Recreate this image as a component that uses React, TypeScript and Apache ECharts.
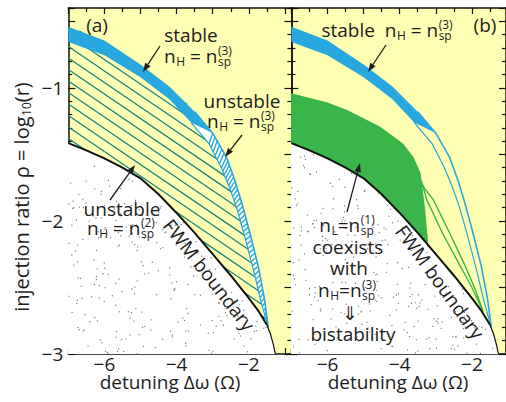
import React, { useEffect, useRef } from 'react';
import * as echarts from 'echarts';

type P = [number, number];

const X_MIN = -7;
const X_MAX_A = -0.82;
const X_MAX_B = -1.055;
const Y_MIN = -3;
const Y_MAX = -0.4;
const X_LABELS = [-6, -4, -2];
const Y_LABELS = [-1, -2, -3];

// FWM boundary (same in both panels)
const FWM_BOUNDARY: P[] = [
  [-7, -1.415], [-6.5, -1.47], [-6, -1.53], [-5.5, -1.6], [-5, -1.68], [-4.5, -1.8], [-4, -1.94],
  [-3.5, -2.09], [-3, -2.25], [-2.5, -2.41], [-2, -2.58], [-1.75, -2.67], [-1.5, -2.78], [-1.4, -2.85],
  [-1.32, -2.93], [-1.28, -2.98], [-1.26, -3.0], [-1.25, -3.1],
];
// outer (upper) edge of the n_H = n_sp^(3) band
const BLUE_OUTER: P[] = [
  [-7, -0.54], [-6, -0.645], [-5, -0.825], [-4.2, -0.99], [-3.5, -1.18], [-3, -1.34], [-2.62, -1.52],
  [-2.38, -1.7], [-2.2, -1.86], [-1.98, -2.08], [-1.74, -2.34], [-1.57, -2.58], [-1.46, -2.8],
];
// inner (lower) edge of the same band
const BLUE_INNER: P[] = [
  [-7, -0.655], [-6, -0.755], [-5, -0.92], [-4.2, -1.085], [-3.6, -1.26], [-3.1, -1.42], [-2.76, -1.6],
  [-2.52, -1.76], [-2.34, -1.9], [-2.12, -2.11], [-1.87, -2.37], [-1.66, -2.61], [-1.46, -2.8],
];
const STABLE_END_INDEX = 4; // band turns unstable after this point
// upper edge of bistable (green) region in panel b
const GREEN_TOP: P[] = [
  [-7, -1.04], [-6, -1.11], [-5.47, -1.165], [-4.55, -1.29], [-3.9, -1.42], [-3.62, -1.52],
  [-3.42, -1.64], [-3.3, -1.9], [-3.15, -2.35],
];
// thin green boundaries continuing to the FWM curve
const GREEN_LINE_INNER: P[] = [
  [-3.4, -1.7], [-3.25, -1.84], [-2.8, -2.1], [-2.4, -2.3], [-2.0, -2.5], [-1.69, -2.68],
];
const GREEN_LINE_OUTER: P[] = [
  [-3.6, -1.62], [-3.3, -1.76], [-3.07, -1.84], [-2.6, -2.1], [-2.2, -2.33], [-1.9, -2.52], [-1.69, -2.68],
];

const FONT = '"Open Sans", "Noto Sans", sans-serif';
const INK = '#1d1d1b';
const YELLOW = '#FFFFB4';
const BLUE = '#29A8DF';
const GREEN = '#3AB54A';
const HATCH = '#1A8580';

let _ctx: CanvasRenderingContext2D | null = null;
function tw(t: string, s: number): number {
  if (!_ctx) _ctx = document.createElement('canvas').getContext('2d');
  if (!_ctx) return t.length * s * 0.55;
  _ctx.font = `${s}px "Open Sans"`;
  return _ctx.measureText(t).width;
}

function txt(text: string, x: number, y: number, size: number, align = 'left') {
  return {
    type: 'text', x, y, z: 100, zlevel: 0,
    style: {
      text, fontSize: size, fontFamily: FONT, fill: INK,
      align, verticalAlign: 'middle', textAlign: align, textVerticalAlign: 'middle',
    },
  };
}

type Part = { t: string; sub?: string; sup?: string };
function formula(parts: Part[], fs = 19, ss = 12, subDy = 5, supDy = -6) {
  const layout: { p: Part; x: number; mw: number }[] = [];
  let x = 0;
  for (const p of parts) {
    const mw = p.t ? tw(p.t, fs) : 0;
    const sw = Math.max(p.sub ? tw(p.sub, ss) : 0, p.sup ? tw(p.sup, ss) : 0);
    layout.push({ p, x, mw });
    x += mw + sw + (sw ? 0.5 : 0);
  }
  const W = x;
  const els: any[] = [];
  for (const o of layout) {
    const x0 = o.x - W / 2;
    if (o.p.t) els.push(txt(o.p.t, x0, 0, fs));
    if (o.p.sub) els.push(txt(o.p.sub, x0 + o.mw + 0.5, subDy, ss));
    if (o.p.sup) els.push(txt(o.p.sup, x0 + o.mw + 0.5, supDy, ss));
  }
  return els;
}

function group(x: number, y: number, children: any[], rotation = 0) {
  return { type: 'group', x, y, rotation, children, z: 100 };
}

function arrow(x1: number, y1: number, x2: number, y2: number) {
  const dx = x2 - x1, dy = y2 - y1;
  const L = Math.hypot(dx, dy);
  const ux = dx / L, uy = dy / L;
  const hl = 9, hw = 3.2;
  const bx = x2 - ux * hl, by = y2 - uy * hl;
  return [
    { type: 'line', z: 100, shape: { x1, y1, x2: bx, y2: by }, style: { stroke: INK, lineWidth: 1.3 } },
    {
      type: 'polygon', z: 100,
      shape: { points: [[x2, y2], [bx - uy * hw, by + ux * hw], [bx + uy * hw, by - ux * hw]] },
      style: { fill: INK },
    },
  ];
}

function hatchSegments(poly: number[][], m: number, step: number) {
  let bmin = Infinity, bmax = -Infinity;
  for (const [x, y] of poly) {
    const b = y - m * x;
    bmin = Math.min(bmin, b); bmax = Math.max(bmax, b);
  }
  const segs: number[][][] = [];
  for (let b = Math.ceil(bmin / step) * step; b <= bmax; b += step) {
    const xs: number[] = [];
    for (let i = 0; i < poly.length; i++) {
      const p1 = poly[i], p2 = poly[(i + 1) % poly.length];
      const f1 = p1[1] - m * p1[0] - b, f2 = p2[1] - m * p2[0] - b;
      if ((f1 < 0) !== (f2 < 0)) {
        const t = f1 / (f1 - f2);
        xs.push(p1[0] + t * (p2[0] - p1[0]));
      }
    }
    xs.sort((a, c) => a - c);
    for (let k = 0; k + 1 < xs.length; k += 2) {
      segs.push([[xs[k], m * xs[k] + b], [xs[k + 1], m * xs[k + 1] + b]]);
    }
  }
  return segs;
}

function inside(poly: number[][], x: number, y: number) {
  let inn = false;
  for (let i = 0, j = poly.length - 1; i < poly.length; j = i++) {
    const xi = poly[i][0], yi = poly[i][1], xj = poly[j][0], yj = poly[j][1];
    if ((yi > y) !== (yj > y) && x < ((xj - xi) * (y - yi)) / (yj - yi) + xi) inn = !inn;
  }
  return inn;
}

// deterministic texture scatter (stipple pattern, not data)
function stip(n: number, k: number) {
  const s = Math.sin(n * 12.9898 + k * 78.233) * 43758.5453;
  return s - Math.floor(s);
}

function renderPanel(api: any, panel: 'a' | 'b', xmax: number) {
  const c = (p: P) => api.coord(p) as number[];
  const kids: any[] = [];
  const tip = BLUE_OUTER[BLUE_OUTER.length - 1];
  const fwm0 = FWM_BOUNDARY[0];
  const fwmLast = FWM_BOUNDARY[FWM_BOUNDARY.length - 1];

  if (panel === 'a') {
    const region: P[] = [
      [-7.4, BLUE_OUTER[0][1]], ...BLUE_OUTER,
      ...FWM_BOUNDARY.filter((p) => p[0] < tip[0]).reverse(), [-7.4, fwm0[1]],
    ];
    const segs = hatchSegments(region.map(c), 0.68, 11.5);
    for (const s of segs) {
      kids.push({ type: 'line', shape: { x1: s[0][0], y1: s[0][1], x2: s[1][0], y2: s[1][1] }, style: { stroke: HATCH, lineWidth: 1.3 } });
    }
  } else {
    const gl = GREEN_TOP[GREEN_TOP.length - 1];
    const poly: P[] = [[-7.4, GREEN_TOP[0][1]], ...GREEN_TOP, [gl[0], -3.4], [-7.4, -3.4]];
    kids.push({ type: 'polygon', shape: { points: poly.map(c) }, style: { fill: GREEN } });
  }

  // region below FWM boundary: white with stipple
  const white: P[] = [[-7.4, fwm0[1]], ...FWM_BOUNDARY, [fwmLast[0], -3.4], [-7.4, -3.4]];
  const whitePx = white.map(c);
  kids.push({ type: 'polygon', shape: { points: whitePx }, style: { fill: '#ffffff' } });
  const [gx0, gy0] = c([X_MIN, Y_MAX]);
  const [gx1, gy1] = c([xmax, Y_MIN]);
  const N = 1100;
  for (let n = 0; n < N; n++) {
    const px = gx0 + stip(n + (panel === 'a' ? 0 : 2000), 1) * (gx1 - gx0);
    const py = gy0 + stip(n + (panel === 'a' ? 0 : 2000), 2) * (gy1 - gy0);
    if (inside(whitePx, px, py)) {
      kids.push({ type: 'circle', shape: { cx: px, cy: py, r: 0.6 }, style: { fill: '#707070' } });
    }
  }

  // blue band
  const outerPx = BLUE_OUTER.map(c);
  const innerPx = BLUE_INNER.map(c);
  kids.push({ type: 'polygon', shape: { points: [...outerPx, ...innerPx.slice().reverse()] }, style: { fill: BLUE } });
  const S = STABLE_END_INDEX;
  const unst = [innerPx[S], ...outerPx.slice(S + 1), ...innerPx.slice(S + 1).reverse()];
  kids.push({ type: 'polygon', shape: { points: unst }, style: { fill: panel === 'a' ? '#ffffff' : YELLOW } });
  if (panel === 'a') {
    for (let i = S + 1; i < outerPx.length - 1; i++) {
      const o1 = outerPx[i], o2 = outerPx[i + 1], i1 = innerPx[i], i2 = innerPx[i + 1];
      const L = Math.hypot(o2[0] - o1[0], o2[1] - o1[1]);
      const n = Math.max(1, Math.round(L / 4.6));
      for (let k = 0; k < n; k++) {
        const t = k / n;
        kids.push({
          type: 'line',
          shape: { x1: o1[0] + t * (o2[0] - o1[0]), y1: o1[1] + t * (o2[1] - o1[1]), x2: i1[0] + t * (i2[0] - i1[0]), y2: i1[1] + t * (i2[1] - i1[1]) },
          style: { stroke: BLUE, lineWidth: 1.4 },
        });
      }
    }
  }
  kids.push({ type: 'polyline', shape: { points: outerPx.slice(S) }, style: { stroke: BLUE, lineWidth: 1.6, fill: 'none' } });
  kids.push({ type: 'polyline', shape: { points: innerPx.slice(S) }, style: { stroke: BLUE, lineWidth: 1.2, fill: 'none' } });

  if (panel === 'b') {
    kids.push({ type: 'polyline', shape: { points: GREEN_LINE_INNER.map(c) }, style: { stroke: GREEN, lineWidth: 1.4, fill: 'none' } });
    kids.push({ type: 'polyline', shape: { points: GREEN_LINE_OUTER.map(c) }, style: { stroke: GREEN, lineWidth: 1.4, fill: 'none' } });
  }

  const upper = FWM_BOUNDARY.filter((p) => p[0] <= tip[0] + 0.05);
  const lower = FWM_BOUNDARY.filter((p) => p[0] >= tip[0] - 0.05);
  kids.push({ type: 'polyline', shape: { points: upper.map(c) }, style: { stroke: '#111', lineWidth: 2, fill: 'none' } });
  kids.push({ type: 'polyline', shape: { points: lower.map(c) }, style: { stroke: '#111', lineWidth: 1.2, fill: 'none' } });
  return { type: 'group', children: kids };
}

function xAxis(gridIndex: number, position: string, max: number, labels: boolean) {
  return {
    type: 'value', gridIndex, position, min: X_MIN, max, interval: 1,
    axisLine: { show: true, onZero: false, lineStyle: { color: '#111', width: 1.5 } },
    axisTick: { show: true, inside: true, length: 6, lineStyle: { color: '#111', width: 1.2 } },
    minorTick: { show: true, splitNumber: 2, length: 4, lineStyle: { color: '#111', width: 1.2 } },
    splitLine: { show: false }, minorSplitLine: { show: false },
    axisLabel: labels
      ? {
          show: true, margin: 0, fontSize: 19, fontFamily: FONT, color: INK,
          formatter: (v: number) => (X_LABELS.includes(Math.round(v * 100) / 100) ? '\u2212' + Math.abs(v) : ''),
        }
      : { show: false },
  };
}
function yAxis(gridIndex: number, position: string, labels: boolean) {
  return {
    type: 'value', gridIndex, position, min: Y_MIN, max: Y_MAX, interval: 0.5,
    axisLine: { show: true, onZero: false, lineStyle: { color: '#111', width: 1.5 } },
    axisTick: { show: true, inside: true, length: 7, lineStyle: { color: '#111', width: 1.2 } },
    minorTick: { show: true, splitNumber: 5, length: 4, lineStyle: { color: '#111', width: 1.2 } },
    splitLine: { show: false }, minorSplitLine: { show: false },
    axisLabel: labels
      ? {
          show: true, margin: 5, fontSize: 19, fontFamily: FONT, color: INK,
          formatter: (v: number) => (Y_LABELS.includes(Math.round(v * 100) / 100) ? '\u2212' + Math.abs(v) : ''),
        }
      : { show: false },
  };
}

function buildOption() {
  const nH3: Part[] = [{ t: 'n', sub: 'H' }, { t: ' = n', sub: 'sp', sup: '(3)' }];
  const nH2: Part[] = [{ t: 'n', sub: 'H' }, { t: ' = n', sub: 'sp', sup: '(2)' }];
  const graphics: any[] = [
    group(97, 25, [txt('(a)', 0, 0, 19, 'center')]),
    group(191, 35, [txt('stable', 0, 0, 19, 'center')]),
    group(198, 56, formula(nH3)),
    ...arrow(160, 46, 143, 72),
    group(242, 101, [txt('unstable', 0, 0, 19, 'center')]),
    group(241, 121, formula(nH3)),
    ...arrow(242, 135, 225, 157),
    group(122, 209, [txt('unstable', 0, 0, 19, 'center')]),
    group(121, 228, formula(nH2)),
    ...arrow(110, 200, 135, 165),
    group(209, 275, [txt('FWM boundary', 0, 0, 19, 'center')], (-52 * Math.PI) / 180),
    group(485, 25, [txt('(b)', 0, 0, 19, 'center')]),
    group(387, 30, formula([{ t: 'stable  n', sub: 'H' }, { t: ' = n', sub: 'sp', sup: '(3)' }])),
    ...arrow(386, 45, 368, 72),
    group(347, 225, formula([{ t: 'n', sub: 'L' }, { t: '=n', sub: 'sp', sup: '(1)' }])),
    group(348, 247, [txt('coexists', 0, 0, 19, 'center')]),
    group(349, 268, [txt('with', 0, 0, 19, 'center')]),
    group(347, 290, formula([{ t: 'n', sub: 'H' }, { t: '=n', sub: 'sp', sup: '(3)' }])),
    group(350, 313, [txt('\u21D3', 0, 0, 19, 'center')]),
    group(353, 334, [txt('bistability', 0, 0, 19, 'center')]),
    ...arrow(347, 212, 360, 163),
    group(440, 282, [txt('FWM boundary', 0, 0, 19, 'center')], (-54 * Math.PI) / 180),
    group(170, 382, [txt('detuning \u0394\u03C9 (\u03A9)', 0, 0, 19, 'center')]),
    group(398, 382, [txt('detuning \u0394\u03C9 (\u03A9)', 0, 0, 19, 'center')]),
    group(21, 197, formula([{ t: 'injection ratio \u03C1 = log', sub: '10' }, { t: '(r)' }], 20, 12, 5, -6), Math.PI / 2),
  ];

  return {
    animation: false,
    textStyle: { fontFamily: FONT },
    grid: [
      { left: 68.3, top: 8, width: 223.1, height: 346, show: true, backgroundColor: YELLOW, borderWidth: 0, containLabel: false, outerBoundsMode: 'none' },
      { left: 291.4, top: 8, width: 214.6, height: 346, show: true, backgroundColor: YELLOW, borderWidth: 0, containLabel: false, outerBoundsMode: 'none' },
    ],
    xAxis: [
      xAxis(0, 'bottom', X_MAX_A, true),
      xAxis(0, 'top', X_MAX_A, false),
      xAxis(1, 'bottom', X_MAX_B, true),
      xAxis(1, 'top', X_MAX_B, false),
    ],
    yAxis: [yAxis(0, 'left', true), yAxis(0, 'right', false), yAxis(1, 'left', false), yAxis(1, 'right', false)],
    series: [
      {
        type: 'custom', xAxisIndex: 0, yAxisIndex: 0, clip: true, silent: true, z: 1, data: [[-4, -2]],
        renderItem: (_p: any, api: any) => renderPanel(api, 'a', X_MAX_A),
      },
      {
        type: 'custom', xAxisIndex: 2, yAxisIndex: 2, clip: true, silent: true, z: 1, data: [[-4, -2]],
        renderItem: (_p: any, api: any) => renderPanel(api, 'b', X_MAX_B),
      },
    ],
    graphic: { elements: graphics },
  };
}

export default function App() {
  const ref = useRef<HTMLDivElement>(null);
  useEffect(() => {
    if (!ref.current) return;
    const chart = echarts.init(ref.current, null, { renderer: 'svg' });
    chart.setOption(buildOption() as any);
    return () => chart.dispose();
  }, []);
  return (
    <div
      ref={ref}
      style={{ position: 'fixed', left: 0, top: 0, width: 506, height: 402, background: '#ffffff' }}
    />
  );
}
